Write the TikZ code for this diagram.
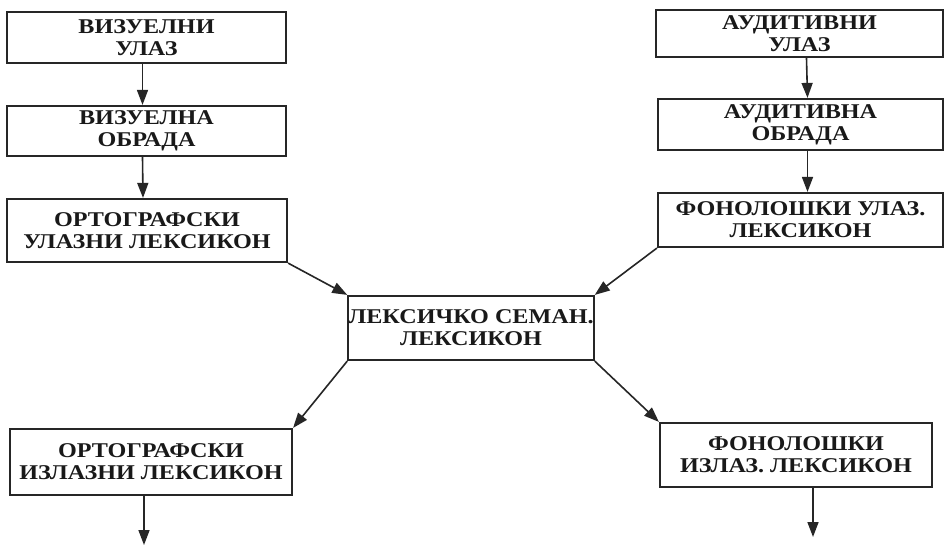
\documentclass[tikz,border=0pt]{standalone}
\usepackage{fontspec}
\setmainfont{Liberation Serif}[FakeStretch=1.15]
\usetikzlibrary{arrows.meta,shadows}
\tikzset{
  box/.style={draw=black!85, line width=2.2pt, fill=white, inner sep=0pt, align=center,
    font=\fontsize{21}{22}\selectfont\bfseries, text=black!90,
    drop shadow={shadow xshift=1.3pt, shadow yshift=-1.3pt, fill=black!75, opacity=1}},
  arr/.style={draw=black!85, line width=1.6pt, -{Triangle[length=15pt,width=11pt]}}
}
\begin{document}
\begin{tikzpicture}[x=1pt,y=-1pt]
\useasboundingbox[fill=white] (0,0) rectangle (946,552);
\node[box, minimum width=279pt, minimum height=51pt] (v1) at (146.5,37.5) {ВИЗУЕЛНИ\\УЛАЗ};
\node[box, minimum width=279pt, minimum height=50pt] (v2) at (146.5,131) {ВИЗУЕЛНА\\ОБРАДА};
\node[box, minimum width=280pt, minimum height=63pt] (v3) at (147,230.5) {ОРТОГРАФСКИ\\УЛАЗНИ ЛЕКСИКОН};
\node[box, minimum width=287pt, minimum height=47pt] (a1) at (799.5,33.5) {АУДИТИВНИ\\УЛАЗ};
\node[box, minimum width=285pt, minimum height=51pt] (a2) at (800.5,124.5) {АУДИТИВНА\\ОБРАДА};
\node[box, minimum width=285pt, minimum height=54pt] (a3) at (800.5,220) {ФОНОЛОШКИ УЛАЗ.\\ЛЕКСИКОН};
\node[box, minimum width=238pt, minimum height=64pt] (c) at (471,328) {ЛЕКСИЧКО СЕМАН.\\ЛЕКСИКОН};
\node[box, minimum width=282pt, minimum height=66pt] (o) at (151,462) {ОРТОГРАФСКИ\\ИЗЛАЗНИ ЛЕКСИКОН};
\node[box, minimum width=272pt, minimum height=64pt] (f) at (796,455) {ФОНОЛОШКИ\\ИЗЛАЗ. ЛЕКСИКОН};
\coordinate (oout) at (144,545);
\coordinate (fout) at (813,537);
\draw[arr] ([xshift=-4pt]v1.south) -- ([xshift=-4pt]v2.north);
\draw[arr] ([xshift=-4pt]v2.south) -- ([xshift=-4pt]v3.north);
\draw[arr] ([xshift=7pt]a1.south) -- ([xshift=7pt]a2.north);
\draw[arr] ([xshift=7pt]a2.south) -- ([xshift=7pt]a3.north);
\draw[arr] (v3.south east) -- (c.north west);
\draw[arr] (a3.south west) -- (c.north east);
\draw[arr] (c.south west) -- (o.north east);
\draw[arr] (c.south east) -- (f.north west);
\draw[arr] (o.south -| oout) -- (oout);
\draw[arr] (f.south -| fout) -- (fout);
\end{tikzpicture}
\end{document}
